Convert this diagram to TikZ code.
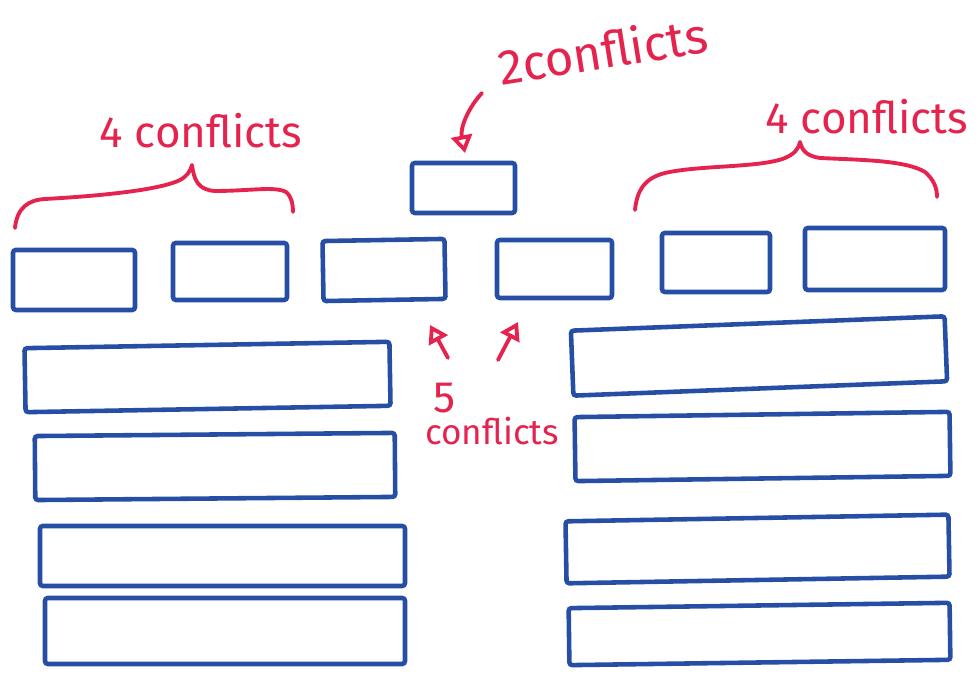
\documentclass[tikz,border=0pt]{standalone}
\usepackage{fontspec}
\setmainfont{Fira Sans}
\usetikzlibrary{arrows.meta}
\definecolor{pen}{RGB}{38,78,165}
\definecolor{ink}{RGB}{228,36,78}
\tikzset{
  box/.style={draw=pen, line width=1.3pt, rounded corners=0.8pt, inner sep=0pt, outer sep=0pt},
  note/.style={text=ink, inner sep=0pt, font=\fontsize{12.5}{14}\selectfont},
  redline/.style={draw=ink, line width=1.1pt, line cap=round, line join=round},
  arr/.style={redline, -{Triangle[open, length=5pt, width=6pt]}},
}
\begin{document}
\begin{tikzpicture}[x=0.1mm, y=-0.1mm]
\useasboundingbox (0,0) rectangle (980,679);
% top row of small boxes
\node[box, minimum width=12.2mm, minimum height=6.0mm] (t1) at (74,280) {};
\node[box, minimum width=11.4mm, minimum height=5.7mm] (t2) at (230,271.5) {};
\node[box, minimum width=12.2mm, minimum height=6.0mm, rotate=1] (t3) at (384,270) {};
\node[box, minimum width=11.5mm, minimum height=5.8mm] (t4) at (554.5,269) {};
\node[box, minimum width=10.8mm, minimum height=5.9mm] (t5) at (716,262.5) {};
\node[box, minimum width=14.0mm, minimum height=6.2mm] (t6) at (875,259) {};
\node[box, minimum width=10.3mm, minimum height=5.0mm] (top) at (463.5,188) {};
% left long boxes
\node[box, minimum width=36.5mm, minimum height=6.4mm, rotate=1] (l1) at (207.5,377) {};
\node[box, minimum width=36.0mm, minimum height=6.4mm, rotate=0.5] (l2) at (215,466.5) {};
\node[box, minimum width=36.5mm, minimum height=6.0mm] (l3) at (222.5,556) {};
\node[box, minimum width=36.0mm, minimum height=6.6mm] (l4) at (225,631) {};
% right long boxes
\node[box, minimum width=37.4mm, minimum height=6.5mm, rotate=2.2] (r1) at (759,356) {};
\node[box, minimum width=37.5mm, minimum height=6.4mm, rotate=0.8] (r2) at (762.5,446.5) {};
\node[box, minimum width=38.3mm, minimum height=6.2mm, rotate=1] (r3) at (757.5,549) {};
\node[box, minimum width=38.1mm, minimum height=5.7mm, rotate=0.8] (r4) at (759.5,634) {};
% labels
\node[note] (cl) at (201,131) {4 conflicts};
\node[note] (cr) at (867,117) {4 conflicts};
\node[note, rotate=9, font=\fontsize{14}{16}\selectfont] (c2) at (603,50) {2conflicts};
\node[note] (c5) at (445,398) {5};
\node[note, font=\fontsize{10}{12}\selectfont] (c5b) at (492,431) {conflicts};
% left brace
\draw[redline] (15,228) .. controls (17,208) and (28,200) .. (45,199)
  .. controls (100,196) and (160,190) .. (180,180)
  .. controls (187,176) and (190,172) .. (192,165)
  .. controls (194,180) and (198,190) .. (215,191)
  .. controls (250,191) and (275,186) .. (286,192)
  .. controls (292,197) and (293,205) .. (293,212);
% right brace
\draw[redline] (635,210) .. controls (637,190) and (645,178) .. (665,173)
  .. controls (700,165) and (760,168) .. (785,158)
  .. controls (794,154) and (798,150) .. (800,142)
  .. controls (802,150) and (806,156) .. (820,158)
  .. controls (860,160) and (905,160) .. (925,172)
  .. controls (934,180) and (937,188) .. (937,197);
% arrows
\coordinate (a2s) at (482,93);
\coordinate (a2t) at (465,153);
\draw[arr] (a2s) .. controls (468,108) and (460,128) .. (a2t);
\coordinate (a5s) at (448,358);
\coordinate (a5t) at (430,325);
\draw[arr] (a5s) -- (a5t);
\coordinate (a6s) at (498,360);
\coordinate (a6t) at (518,322);
\draw[arr] (a6s) -- (a6t);
\end{tikzpicture}
\end{document}
